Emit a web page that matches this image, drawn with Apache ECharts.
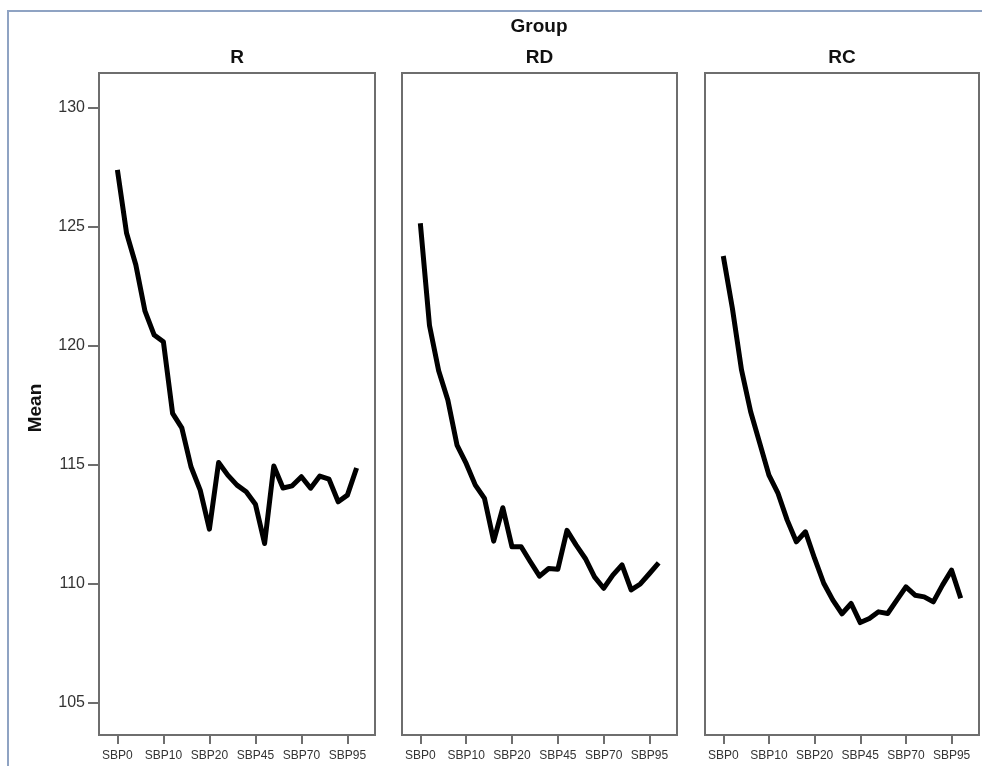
<!DOCTYPE html>
<html>
<head>
<meta charset="utf-8">
<script src="https://cdn.jsdelivr.net/npm/echarts@6/dist/echarts.min.js"></script>
<style>
  html, body { margin: 0; padding: 0; background: #fff; }
  #chart { width: 982px; height: 766px; }
</style>
</head>
<body>
<div id="chart"></div>
<script>
// time points of the repeated SBP measurement
const categories = ['SBP0','SBP2','SBP4','SBP6','SBP8','SBP10','SBP12','SBP14','SBP16','SBP18',
  'SBP20','SBP25','SBP30','SBP35','SBP40','SBP45','SBP50','SBP55','SBP60','SBP65',
  'SBP70','SBP75','SBP80','SBP85','SBP90','SBP95','SBP100'];
const groups = ['R', 'RD', 'RC'];
const meanR = [127.38, 124.72, 123.4, 121.45, 120.45, 120.17, 117.16, 116.55, 114.92, 113.94,
  112.3, 115.1, 114.57, 114.15, 113.87, 113.35, 111.7, 114.95, 114.03, 114.12,
  114.5, 114.02, 114.53, 114.4, 113.45, 113.73, 114.87];
const meanRD = [125.14, 120.85, 118.95, 117.72, 115.83, 115.06, 114.15, 113.59, 111.8, 113.2,
  111.56, 111.56, 110.93, 110.33, 110.65, 110.62, 112.25, 111.63, 111.07, 110.3,
  109.82, 110.37, 110.8, 109.75, 110.0, 110.44, 110.89];
const meanRC = [123.77, 121.57, 118.98, 117.23, 115.9, 114.57, 113.8, 112.68, 111.77, 112.19,
  111.07, 110.03, 109.32, 108.75, 109.18, 108.38, 108.55, 108.83, 108.76, 109.32,
  109.88, 109.53, 109.46, 109.25, 109.95, 110.58, 109.4];
const xTickIdx = [0, 5, 10, 15, 20, 25];
const yTicks = [105, 110, 115, 120, 125, 130];

const allMeans = [meanR, meanRD, meanRC];
const panels = [
  { left: 99, width: 276 },
  { left: 402, width: 275 },
  { left: 705, width: 274 }
];
const panelTop = 73, panelHeight = 662;

const chart = echarts.init(document.getElementById('chart'));

const grids = [], xAxes = [], yAxes = [], series = [];
panels.forEach((p, k) => {
  grids.push({
    left: p.left, top: panelTop, width: p.width, height: panelHeight,
    outerBoundsMode: 'none',
    show: true, borderColor: '#6e6e6e', borderWidth: 2, backgroundColor: '#fff'
  });
  xAxes.push({
    type: 'value', gridIndex: k, min: -2, max: 28,
    axisLine: { show: false, onZero: false },
    splitLine: { show: false },
    axisTick: { show: true, length: 9, customValues: xTickIdx,
      lineStyle: { color: '#6e6e6e', width: 2 } },
    axisLabel: { show: true, margin: 15, customValues: xTickIdx,
      fontFamily: 'Arial, Liberation Sans', fontSize: 12, color: '#333',
      formatter: v => categories[v] }
  });
  yAxes.push({
    type: 'value', gridIndex: k, min: 103.66, max: 131.45,
    axisLine: { show: false, onZero: false },
    splitLine: { show: false },
    axisTick: { show: k === 0, length: 11, customValues: yTicks,
      lineStyle: { color: '#6e6e6e', width: 2 } },
    axisLabel: { show: k === 0, margin: 14, customValues: yTicks,
      fontFamily: 'Arial, Liberation Sans', fontSize: 16, color: '#333' }
  });
  series.push({
    name: groups[k], type: 'line', xAxisIndex: k, yAxisIndex: k,
    data: allMeans[k].map((v, i) => [i, v]),
    showSymbol: false, silent: true,
    lineStyle: { color: '#000', width: 5, join: 'round' }
  });
});

const titleFont = { fontFamily: 'Arial, Liberation Sans', fontWeight: 'bold', fontSize: 19, fill: '#111' };
const graphics = [
  { type: 'rect', z: -10, shape: { x: 8, y: 11, width: 1000, height: 800 },
    style: { fill: 'none', stroke: '#8fa3c3', lineWidth: 2 } },
  { type: 'text', x: 539, y: 27,
    style: Object.assign({ text: 'Group', align: 'center', verticalAlign: 'middle' }, titleFont) },
  { type: 'text', x: 36, y: 408, rotation: Math.PI / 2,
    style: Object.assign({ text: 'Mean', align: 'center', verticalAlign: 'middle' }, titleFont) }
];
panels.forEach((p, k) => {
  graphics.push({ type: 'text', x: p.left + p.width / 2, y: 58,
    style: Object.assign({ text: groups[k], align: 'center', verticalAlign: 'middle' }, titleFont) });
});

chart.setOption({
  animation: false,
  grid: grids,
  xAxis: xAxes,
  yAxis: yAxes,
  series: series,
  graphic: graphics
});
</script>
</body>
</html>
